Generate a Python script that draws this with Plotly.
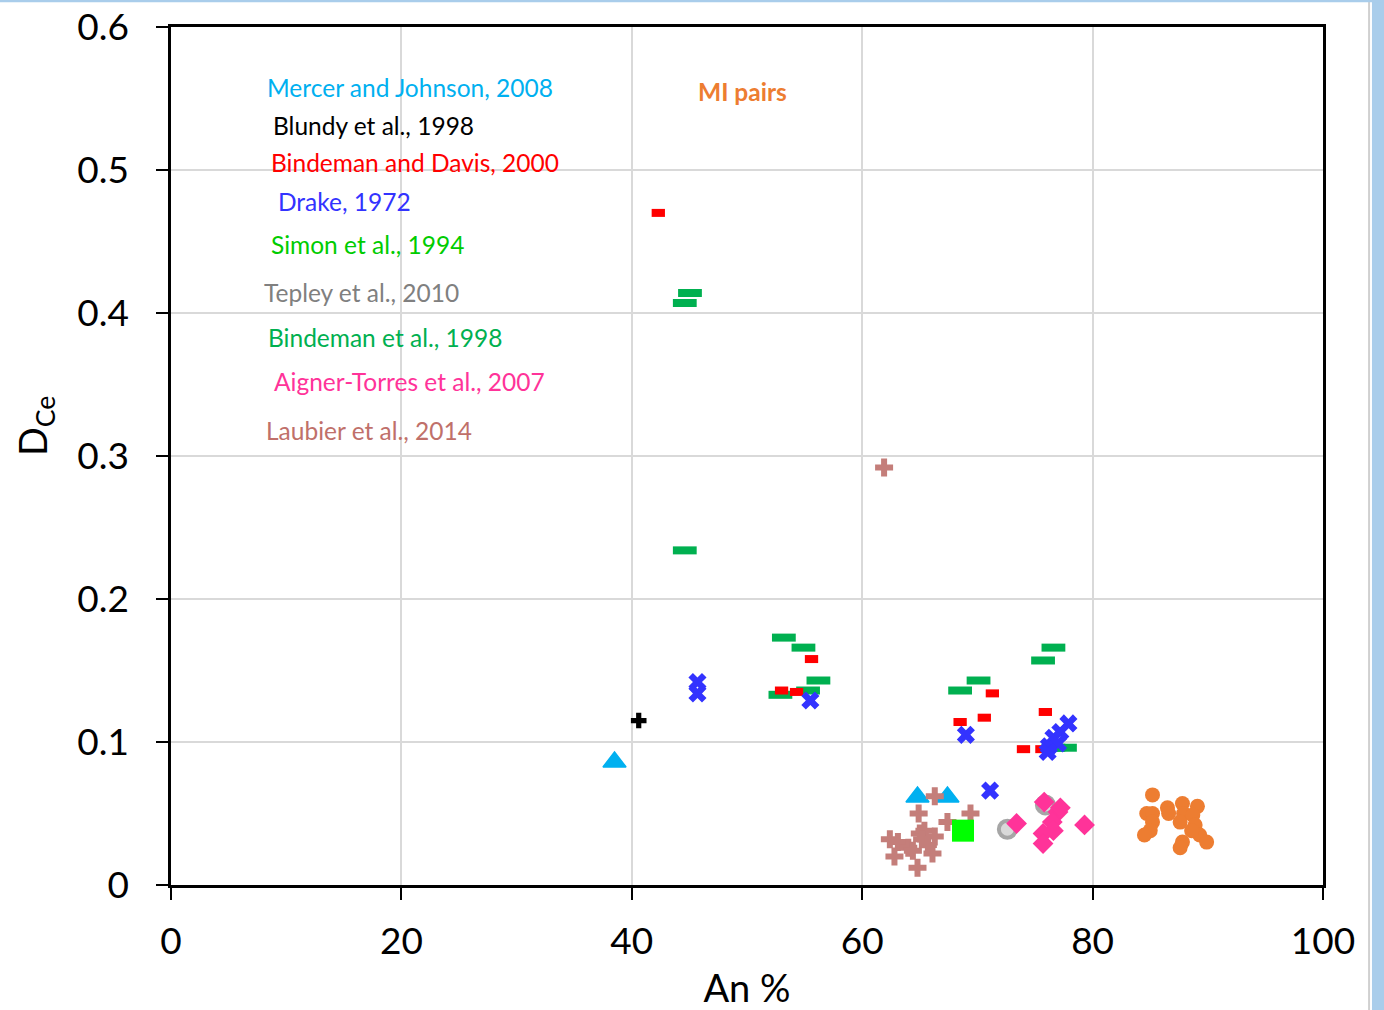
import plotly.graph_objects as go

# ---------------- data ----------------
mercer_x = [38.5, 64.8, 67.4]
mercer_y = [0.086, 0.0615, 0.0615]

blundy_x = [40.6]
blundy_y = [0.115]

bdavis_x = [42.3, 55.6, 53.0, 54.3, 71.3, 70.6, 68.5, 75.9, 74.0, 75.6]
bdavis_y = [0.470, 0.158, 0.136, 0.135, 0.134, 0.117, 0.114, 0.121, 0.095, 0.095]

drake_x = [45.7, 45.7, 55.5, 69.0, 71.1, 77.9, 77.2, 76.6, 76.2, 77.0, 76.1]
drake_y = [0.142, 0.134, 0.129, 0.105, 0.066, 0.113, 0.107, 0.103, 0.097, 0.099, 0.093]

simon_x = [68.75]
simon_y = [0.038]

tepley_x = [72.6, 75.9]
tepley_y = [0.039, 0.056]

bind98_x = [45.05, 44.6, 44.6, 53.2, 54.9, 56.2, 55.3, 52.9, 68.5, 70.1, 75.7, 76.6, 76.6, 77.6]
bind98_y = [0.414, 0.407, 0.234, 0.173, 0.166, 0.143, 0.136, 0.133, 0.136, 0.143, 0.157, 0.166, 0.096, 0.096]

aigner_x = [73.4, 75.8, 77.0, 77.2, 76.5, 76.6, 75.7, 75.7, 79.3]
aigner_y = [0.043, 0.058, 0.051, 0.054, 0.044, 0.038, 0.036, 0.029, 0.042]

laubier_x = [61.9, 66.3, 64.9, 69.4, 67.4, 65.0, 65.4, 66.3, 62.4, 63.1, 64.0, 66.1,
             62.8, 64.8, 65.2, 65.7, 64.4]
laubier_y = [0.292, 0.062, 0.050, 0.050, 0.044, 0.036, 0.038, 0.034, 0.032, 0.030, 0.026,
             0.022, 0.020, 0.012, 0.032, 0.028, 0.024]

mi_x = [85.2, 84.7, 85.2, 85.2, 85.0, 84.5, 86.5, 86.6, 87.8, 87.9, 87.6, 89.1, 88.7,
        88.9, 87.8, 87.6, 89.3, 89.9, 88.6]
mi_y = [0.063, 0.050, 0.050, 0.044, 0.038, 0.035, 0.054, 0.050, 0.057, 0.050, 0.044,
        0.055, 0.049, 0.042, 0.030, 0.026, 0.035, 0.030, 0.038]

x_ticks = [0, 20, 40, 60, 80, 100]
y_ticks = [0, 0.1, 0.2, 0.3, 0.4, 0.5, 0.6]
y_tick_text = ["0", "0.1", "0.2", "0.3", "0.4", "0.5", "0.6"]

labels = [
    ("Mercer and Johnson, 2008", "#00B0F0", 8.18, 0.558),
    ("Blundy et al., 1998", "#000000", 8.68, 0.531),
    ("Bindeman and Davis, 2000", "#FF0000", 8.48, 0.505),
    ("Drake, 1972", "#3333FF", 9.08, 0.478),
    ("Simon et al., 1994", "#00CC00", 8.48, 0.448),
    ("Tepley et al., 2010", "#808080", 7.88, 0.414),
    ("Bindeman et al., 1998", "#00B050", 8.28, 0.383),
    ("Aigner-Torres et al., 2007", "#FF3399", 8.78, 0.352),
    ("Laubier et al., 2014", "#C0706A", 8.08, 0.318),
]

FONT = "Lato"

fig = go.Figure()

fig.add_trace(go.Scatter(x=bind98_x, y=bind98_y, mode="markers",
    marker=dict(symbol="line-ew", size=17, line=dict(color="#00B050", width=8))))
fig.add_trace(go.Scatter(x=bdavis_x, y=bdavis_y, mode="markers",
    marker=dict(symbol="line-ew", size=9.5, line=dict(color="#FF0000", width=8))))
fig.add_trace(go.Scatter(x=drake_x, y=drake_y, mode="markers",
    marker=dict(symbol="x", size=16, color="#3333FF", line=dict(width=0))))
fig.add_trace(go.Scatter(x=blundy_x, y=blundy_y, mode="markers",
    marker=dict(symbol="cross", size=13, color="#000000", line=dict(width=0))))
fig.add_trace(go.Scatter(x=mercer_x, y=mercer_y, mode="markers",
    marker=dict(symbol="triangle-up", size=20, color="#00B0F0",
                line=dict(color="#00B0F0", width=1.5))))
fig.add_trace(go.Scatter(x=laubier_x, y=laubier_y, mode="markers",
    marker=dict(symbol="cross", size=15, color="#C47E7A", line=dict(width=0))))
fig.add_trace(go.Scatter(x=simon_x, y=simon_y, mode="markers",
    marker=dict(symbol="square", size=22, color="#00FF00", line=dict(width=0))))
fig.add_trace(go.Scatter(x=tepley_x, y=tepley_y, mode="markers",
    marker=dict(symbol="circle", size=17, color="#D9D9D9", line=dict(color="#A6A6A6", width=4))))
fig.add_trace(go.Scatter(x=aigner_x, y=aigner_y, mode="markers",
    marker=dict(symbol="diamond", size=16, color="#FF3399", line=dict(width=0))))
fig.add_trace(go.Scatter(x=mi_x, y=mi_y, mode="markers",
    marker=dict(symbol="circle", size=15, color="#ED7D31", line=dict(width=0))))

for text, color, lx, ly in labels:
    fig.add_annotation(x=lx, y=ly, xref="x", yref="y", text=text, showarrow=False,
                       xanchor="left", yanchor="middle",
                       font=dict(family=FONT, size=24.5, color=color))
fig.add_annotation(x=45.6, y=0.555, xref="x", yref="y", text="<b>MI pairs</b>",
                   showarrow=False, xanchor="left", yanchor="middle",
                   font=dict(family=FONT, size=24.5, color="#ED7D31"))

# y-axis title
fig.add_annotation(x=-0.118, y=0.535, xref="paper", yref="paper", text="D<sub>Ce</sub>",
                   showarrow=False, textangle=-90, xanchor="center", yanchor="middle",
                   font=dict(family=FONT, size=38, color="black"))

# screenshot frame decorations
fig.add_shape(type="rect", xref="paper", yref="paper", x0=1.0425, x1=1.06, y0=-0.2, y1=1.05,
              fillcolor="#A9CDEB", line=dict(width=0), layer="below")
fig.add_shape(type="line", xref="paper", yref="paper", x0=1.040, x1=1.040, y0=-0.2, y1=1.03,
              line=dict(color="#D0D0D0", width=2), layer="below")
fig.add_shape(type="line", xref="paper", yref="paper", x0=-0.2, x1=1.06, y0=1.0305, y1=1.0305,
              line=dict(color="#A9CDEB", width=3), layer="below")

fig.update_layout(
    width=1384, height=1010,
    margin=dict(l=171, r=61, t=27, b=125),
    paper_bgcolor="white", plot_bgcolor="white",
    showlegend=False,
    font=dict(family=FONT, color="black"),
    xaxis=dict(range=[0, 100], tickvals=x_ticks, ticks="outside", ticklen=12, tickwidth=2,
               tickcolor="black", showline=True, linecolor="black", linewidth=2.5, mirror=True,
               showgrid=True, gridcolor="#D9D9D9", gridwidth=2, zeroline=False, automargin=False,
               ticklabelstandoff=10,
               tickfont=dict(family=FONT, size=37, color="black"),
               title=dict(text="An %", font=dict(family=FONT, size=38, color="black"), standoff=18)),
    yaxis=dict(range=[0, 0.6], tickvals=y_ticks, ticktext=y_tick_text, ticks="outside", ticklen=12,
               tickwidth=2, tickcolor="black", showline=True, linecolor="black", linewidth=2.5,
               mirror=True, showgrid=True, gridcolor="#D9D9D9", gridwidth=2, zeroline=False,
               automargin=False, ticklabelstandoff=20,
               tickfont=dict(family=FONT, size=37, color="black")),
)

fig.write_html("out.html")
